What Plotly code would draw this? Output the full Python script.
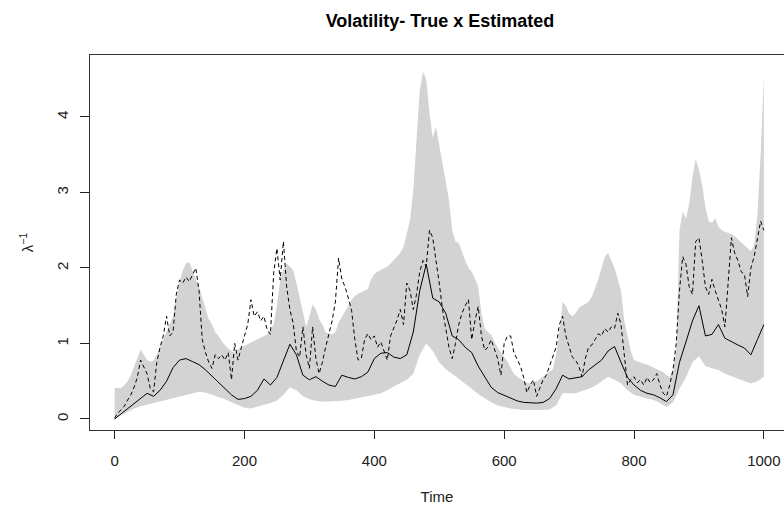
import plotly.graph_objects as go

# ---- data ----
# upper edge of the grey band, every 5 time units (0..1000)
t_upper = list(range(0, 1001, 5))
band_upper = [
    0.41, 0.41, 0.41, 0.45, 0.50, 0.58, 0.70, 0.82, 0.92, 0.85,
    0.78, 0.76, 0.77, 0.85, 0.95, 1.05, 1.15, 1.25, 1.36, 1.60,
    1.82, 1.97, 2.06, 2.08, 1.95, 1.85, 1.75, 1.60, 1.45, 1.32,
    1.25, 1.15, 1.10, 1.03, 0.98, 0.93, 0.90, 0.88, 0.92, 0.95,
    0.97, 0.99, 1.01, 1.03, 1.05, 1.07, 1.09, 1.12, 1.18, 1.25,
    1.50, 1.84, 1.98, 2.06, 2.02, 1.97, 1.80, 1.60, 1.40, 1.22,
    1.35, 1.52, 1.45, 1.32, 1.25, 1.15, 1.13, 1.12, 1.15, 1.28,
    1.35, 1.42, 1.50, 1.58, 1.63, 1.66, 1.68, 1.70, 1.72, 1.85,
    1.92, 1.95, 1.97, 2.00, 2.02, 2.06, 2.10, 2.15, 2.20, 2.28,
    2.45, 2.64, 3.03, 3.70, 4.35, 4.60, 4.50, 4.05, 3.72, 3.87,
    3.60, 3.38, 3.15, 2.90, 2.50, 2.35, 2.33, 2.20, 2.10, 2.00,
    1.95, 1.86, 1.75, 1.40, 1.20, 1.15, 1.12, 1.02, 0.94, 0.88,
    0.82, 0.76, 0.68, 0.60, 0.56, 0.53, 0.50, 0.48, 0.47, 0.48,
    0.50, 0.53, 0.56, 0.60, 0.63, 0.66, 0.85, 1.15, 1.55, 1.50,
    1.40, 1.36, 1.40, 1.47, 1.50, 1.52, 1.55, 1.62, 1.73, 1.85,
    2.00, 2.15, 2.20, 2.10, 2.00, 1.85, 1.70, 1.30, 1.10, 0.90,
    0.78, 0.76, 0.74, 0.73, 0.72, 0.70, 0.68, 0.66, 0.65, 0.62,
    0.58, 0.56, 0.65, 0.90, 2.50, 2.75, 2.65, 2.85, 3.20, 3.45,
    3.30, 3.10, 2.80, 2.62, 2.60, 2.66, 2.55, 2.50, 2.48, 2.47,
    2.45, 2.42, 2.38, 2.35, 2.30, 2.26, 2.22, 2.30, 2.70, 3.50,
    4.55,
]

# lower edge of the grey band and the estimated (solid) line, every 10 units
t_ten = list(range(0, 1001, 10))
band_lower = [
    0.00, 0.05, 0.10, 0.14, 0.17, 0.19, 0.21, 0.23, 0.25, 0.28,
    0.30, 0.32, 0.34, 0.36, 0.35, 0.32, 0.29, 0.26, 0.22, 0.18,
    0.15, 0.14, 0.16, 0.19, 0.21, 0.24, 0.32, 0.42, 0.38, 0.30,
    0.26, 0.24, 0.23, 0.23, 0.23, 0.24, 0.25, 0.27, 0.29, 0.30,
    0.32, 0.34, 0.38, 0.43, 0.48, 0.52, 0.60, 0.85, 1.00, 0.90,
    0.75, 0.66, 0.60, 0.54, 0.47, 0.40, 0.33, 0.27, 0.22, 0.18,
    0.16, 0.14, 0.13, 0.12, 0.12, 0.12, 0.12, 0.13, 0.18, 0.34,
    0.34, 0.34, 0.37, 0.40, 0.44, 0.50, 0.56, 0.52, 0.47, 0.38,
    0.32, 0.29, 0.27, 0.25, 0.21, 0.16, 0.22, 0.40, 0.55, 0.75,
    0.83, 0.70, 0.68, 0.65, 0.60, 0.57, 0.53, 0.50, 0.47, 0.50,
    0.56,
]
estimated = [
    0.00, 0.07, 0.13, 0.20, 0.27, 0.34, 0.30, 0.38, 0.50, 0.68,
    0.78, 0.80, 0.76, 0.72, 0.65, 0.57, 0.48, 0.40, 0.32, 0.26,
    0.27, 0.30, 0.38, 0.53, 0.45, 0.55, 0.78, 0.99, 0.85, 0.58,
    0.52, 0.56, 0.50, 0.45, 0.43, 0.58, 0.55, 0.53, 0.56, 0.62,
    0.80, 0.87, 0.88, 0.82, 0.80, 0.85, 1.15, 1.70, 2.05, 1.60,
    1.55, 1.40, 1.10, 1.05, 0.95, 0.88, 0.70, 0.55, 0.42, 0.35,
    0.31, 0.27, 0.24, 0.22, 0.21, 0.21, 0.22, 0.27, 0.40, 0.58,
    0.53, 0.55, 0.56, 0.65, 0.72, 0.78, 0.90, 0.96, 0.75, 0.55,
    0.45, 0.38, 0.34, 0.32, 0.28, 0.23, 0.32, 0.75, 1.02, 1.30,
    1.50, 1.10, 1.12, 1.25, 1.07, 1.02, 0.98, 0.94, 0.85, 1.05,
    1.25,
]

# true volatility (dashed line), every 5 time units
t_true = list(range(0, 1001, 5))
true_vol = [
    0.01, 0.08, 0.12, 0.17, 0.25, 0.32, 0.42, 0.55, 0.78, 0.70,
    0.60, 0.40, 0.36, 0.75, 0.95, 1.10, 1.36, 1.10, 1.15, 1.65,
    1.84, 1.80, 1.88, 1.82, 1.90, 2.00, 1.70, 1.05, 0.88, 0.75,
    0.67, 0.85, 0.80, 0.85, 0.78, 0.88, 0.52, 1.00, 0.78, 0.95,
    1.10, 1.25, 1.58, 1.36, 1.42, 1.30, 1.36, 1.18, 1.12, 1.93,
    2.26, 1.84, 2.35, 1.75, 1.45, 1.27, 0.90, 0.82, 1.22, 0.85,
    0.67, 1.22, 0.80, 0.60, 0.75, 0.95, 1.13, 1.30, 1.55, 2.13,
    1.85, 1.75, 1.60, 1.44, 1.05, 0.78, 0.80, 1.05, 1.13, 1.05,
    1.10, 0.95, 1.02, 0.90, 0.78, 1.10, 1.20, 1.31, 1.45, 1.25,
    1.80, 1.70, 1.45, 1.65, 1.95, 2.10, 2.02, 2.50, 2.40, 2.11,
    1.80, 1.45, 1.22, 0.95, 0.80, 1.00, 1.25, 1.40, 1.50, 1.58,
    1.05, 1.30, 1.49, 1.10, 0.91, 0.95, 1.05, 0.92, 0.80, 0.58,
    1.00, 1.10, 1.10, 0.88, 0.78, 0.70, 0.55, 0.35, 0.45, 0.52,
    0.30, 0.40, 0.52, 0.58, 0.70, 0.82, 0.95, 1.25, 1.36, 1.10,
    0.95, 0.82, 0.78, 0.70, 0.56, 0.80, 0.95, 0.98, 1.05, 1.13,
    1.10, 1.20, 1.15, 1.22, 1.20, 1.40, 1.25, 0.85, 0.45, 0.52,
    0.56, 0.48, 0.52, 0.45, 0.55, 0.48, 0.52, 0.60, 0.45, 0.34,
    0.30, 0.45, 0.65, 1.00, 1.70, 2.15, 2.05, 1.75, 1.65, 2.35,
    2.40, 2.10, 1.75, 1.65, 1.85, 1.70, 1.58, 1.45, 1.22, 1.80,
    2.40, 2.20, 2.10, 1.95, 1.92, 1.62, 2.00, 2.15, 2.40, 2.62,
    2.50,
]

x_ticks = [0, 200, 400, 600, 800, 1000]
y_ticks = [0, 1, 2, 3, 4]

FONT = "Liberation Sans, Arial, sans-serif"

fig = go.Figure()

# grey band polygon (upper edge forward, lower edge backward)
fig.add_trace(go.Scatter(
    x=t_upper + t_ten[::-1],
    y=band_upper + band_lower[::-1],
    fill="toself", fillcolor="#d3d3d3",
    line=dict(width=0, color="#d3d3d3"),
    mode="lines", hoverinfo="skip", showlegend=False,
))
fig.add_trace(go.Scatter(
    x=t_ten, y=estimated, mode="lines",
    line=dict(color="black", width=1), showlegend=False,
))
fig.add_trace(go.Scatter(
    x=t_true, y=true_vol, mode="lines",
    line=dict(color="black", width=1, dash="4px,3px"), showlegend=False,
))

fig.update_layout(
    width=784, height=512,
    margin=dict(l=90, r=0, t=55, b=82),
    paper_bgcolor="white", plot_bgcolor="white",
    font=dict(family=FONT, size=15, color="#222"),
    title=dict(
        text="<b>Volatility- True x Estimated</b>",
        font=dict(family=FONT, size=18, color="black"),
        x=(440 - 90) / 694, xref="paper", xanchor="center",
        y=1 - 21 / 512, yref="container", yanchor="middle",
    ),
    xaxis=dict(
        range=[-37.9, 1031], tickvals=x_ticks,
        ticks="outside", ticklen=8, tickcolor="#222", tickwidth=1,
        showline=True, linecolor="#333", linewidth=1, mirror=True,
        showgrid=False, zeroline=False,
        ticklabelstandoff=9,
        tickfont=dict(size=15),
        title=dict(text="Time", font=dict(size=15), standoff=23),
    ),
    yaxis=dict(
        range=[-0.146, 4.821], tickvals=y_ticks, tickangle=-90,
        ticks="outside", ticklen=9, tickcolor="#222", tickwidth=1,
        showline=True, linecolor="#333", linewidth=1, mirror=False,
        showgrid=False, zeroline=False,
        ticklabelstandoff=6,
        tickfont=dict(size=15),
        title=dict(text="λ<sup>−1</sup>", font=dict(size=15), standoff=16),
    ),
)

fig.write_html("out.html")
